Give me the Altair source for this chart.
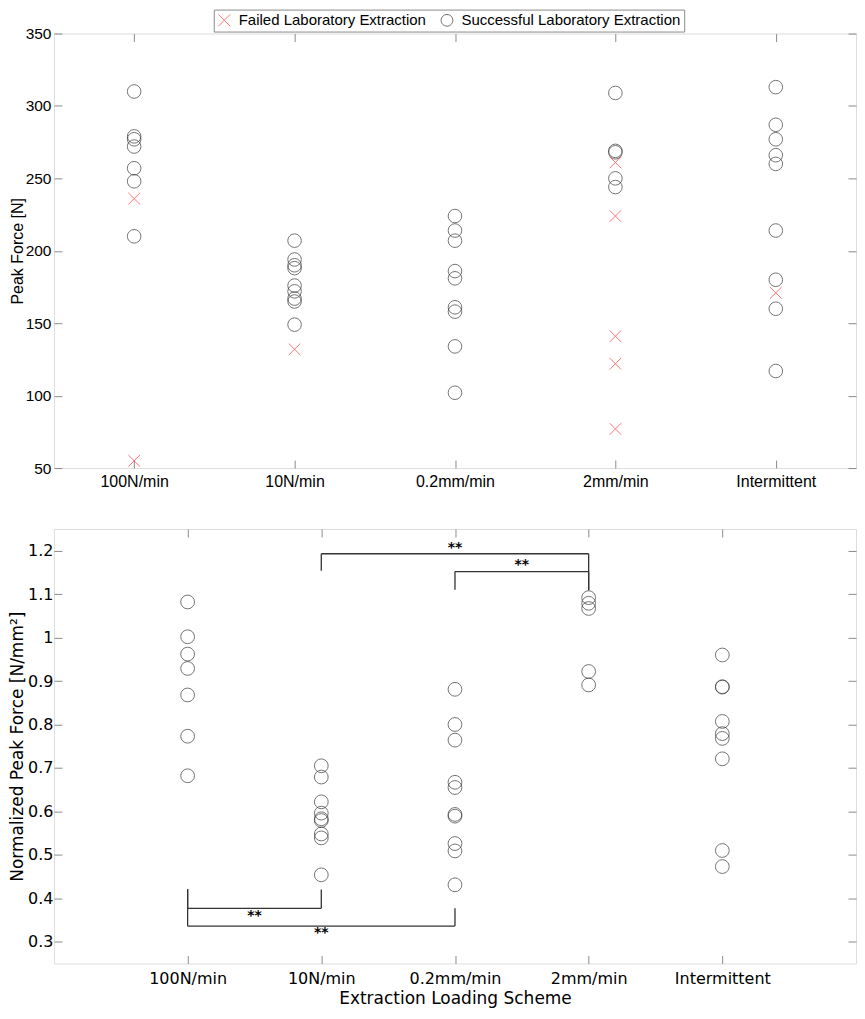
import json
import altair as alt
import pandas as pd

# ---------------- data ----------------
categories = ["100N/min", "10N/min", "0.2mm/min", "2mm/min", "Intermittent"]
status_names = ["Failed Laboratory Extraction", "Successful Laboratory Extraction"]

# Peak force [N], successful extractions (circles)
success_force = {
    "100N/min": [310, 279, 277, 272, 257, 248, 210],
    "10N/min": [207, 194, 190, 188, 176, 172, 167, 165, 149],
    "0.2mm/min": [224, 214, 207, 186, 181, 161, 158, 134, 102],
    "2mm/min": [309, 269, 268, 250, 244],
    "Intermittent": [313, 287, 277, 266, 260, 214, 180, 160, 117],
}
# Peak force [N], failed extractions (crosses)
failed_force = {
    "100N/min": [236, 55],
    "10N/min": [132],
    "0.2mm/min": [],
    "2mm/min": [261, 224, 141, 122, 77],
    "Intermittent": [171],
}
# Normalized peak force [N/mm^2]
normalized_force = {
    "100N/min": [1.082, 1.002, 0.962, 0.929, 0.868, 0.773, 0.682],
    "10N/min": [0.705, 0.679, 0.622, 0.596, 0.583, 0.579, 0.548, 0.539, 0.454],
    "0.2mm/min": [0.881, 0.800, 0.764, 0.667, 0.655, 0.593, 0.589, 0.526, 0.509, 0.431],
    "2mm/min": [1.092, 1.079, 1.067, 0.922, 0.891],
    "Intermittent": [0.960, 0.887, 0.886, 0.807, 0.779, 0.768, 0.721, 0.510, 0.473],
}

# significance brackets (bottom panel)
bracket_left = ["10N/min", "0.2mm/min", "100N/min", "100N/min"]
bracket_right = ["2mm/min", "2mm/min", "10N/min", "0.2mm/min"]
bracket_bar = [1.193, 1.152, 0.377, 0.336]
bracket_left_end = [1.154, 1.110, 0.421, 0.421]
bracket_right_end = [1.109, 1.109, 0.420, 0.377]
bracket_text = ["**", "**", "**", "**"]
bracket_text_y = [1.207, 1.166, 0.360, 0.320]

top_y_ticks = [50, 100, 150, 200, 250, 300, 350]
bottom_y_ticks = [0.3, 0.4, 0.5, 0.6, 0.7, 0.8, 0.9, 1.0, 1.1, 1.2]

# ---------------- tables ----------------
idx = {c: i + 1 for i, c in enumerate(categories)}

df_succ = pd.DataFrame(
    [{"idx": idx[c], "force": v, "status": status_names[1]} for c in categories for v in success_force[c]]
)
df_fail = pd.DataFrame(
    [{"idx": idx[c], "force": v, "status": status_names[0]} for c in categories for v in failed_force[c]]
)
df_norm = pd.DataFrame(
    [{"idx": idx[c], "value": v} for c in categories for v in normalized_force[c]]
)

seg_rows = []
txt_rows = []
for L, R, bar, le, re_, t, ty in zip(bracket_left, bracket_right, bracket_bar,
                                     bracket_left_end, bracket_right_end,
                                     bracket_text, bracket_text_y):
    xl, xr = idx[L], idx[R]
    seg_rows.append({"x": xl, "x2": xr, "y": bar, "y2": bar})
    seg_rows.append({"x": xl, "x2": xl, "y": bar, "y2": le})
    seg_rows.append({"x": xr, "x2": xr, "y": bar, "y2": re_})
    txt_rows.append({"x": (xl + xr) / 2, "y": ty, "label": t})
df_seg = pd.DataFrame(seg_rows)
df_txt = pd.DataFrame(txt_rows)

# ---------------- styling ----------------
GRAY = "#8c8c8c"
DARK = "#3a3a3a"
RED = "#ff3b3b"
XPATH = "M-1,-1L1,1M-1,1L1,-1"
ARIAL = "Liberation Sans"
VERD = "DejaVu Sans"
W = 803
H = 435

label_expr = "[" + ",".join(json.dumps(c) for c in categories) + "][datum.value - 1]"
cat_vals = [idx[c] for c in categories]


def ticks_only(orient, values):
    return alt.Axis(orient=orient, values=values, labels=False, domain=False, offset=-8,
                    tickSize=8, tickColor=GRAY, tickWidth=1, grid=False, title=None)


# ---------------- top panel ----------------
xs_top = alt.Scale(domain=[0.5, 5.5], nice=False, zero=False)
ys_top = alt.Scale(domain=[50, 350], nice=False, zero=False)
shape_scale = alt.Scale(domain=status_names, range=[XPATH, "circle"])
color_scale = alt.Scale(domain=status_names, range=[RED, DARK])

legend = alt.Legend(orient="none", legendX=160, legendY=-24, direction="horizontal", title=None,
                    strokeColor=GRAY, fillColor="white", padding=3, labelFont=ARIAL,
                    labelFontSize=15, labelColor="black", labelLimit=400, symbolSize=140,
                    symbolStrokeWidth=1, columnPadding=12, labelOffset=7)

axis_top_bottom = alt.Axis(orient="bottom", values=cat_vals, labelExpr=label_expr, domain=False,
                           offset=-8, tickSize=8, tickColor=GRAY, tickWidth=1, labelPadding=5,
                           labelFont=ARIAL, labelFontSize=16, labelColor="black", labelAngle=0,
                           grid=False, title=None)
axis_top_left = alt.Axis(orient="left", values=top_y_ticks, domain=False, offset=-8, tickSize=8,
                         tickColor=GRAY, tickWidth=1, labelPadding=3, labelFont=ARIAL,
                         labelFontSize=15.5, labelColor="black", grid=False, title="Peak Force [N]",
                         titleFont=ARIAL, titleFontSize=16, titleFontWeight="normal",
                         titleColor="black", titlePadding=0)

circles_top = alt.Chart(df_succ).mark_point(filled=False, size=185, strokeWidth=1).encode(
    x=alt.X("idx:Q", scale=xs_top, axis=axis_top_bottom),
    y=alt.Y("force:Q", scale=ys_top, axis=axis_top_left),
    shape=alt.Shape("status:N", scale=shape_scale, legend=legend),
    color=alt.Color("status:N", scale=color_scale, legend=legend),
)
crosses_top = alt.Chart(df_fail).mark_point(filled=False, size=135, strokeWidth=1).encode(
    x=alt.X("idx:Q", scale=xs_top, axis=ticks_only("top", cat_vals)),
    y=alt.Y("force:Q", scale=ys_top, axis=ticks_only("right", top_y_ticks)),
    shape=alt.Shape("status:N", scale=shape_scale, legend=legend),
    color=alt.Color("status:N", scale=color_scale, legend=legend),
)
top = alt.layer(circles_top, crosses_top).resolve_axis(x="independent", y="independent").properties(
    width=W, height=H
)

# ---------------- bottom panel ----------------
xs_bot = alt.Scale(domain=[0, 6], nice=False, zero=False)
ys_bot = alt.Scale(domain=[0.25, 1.25], nice=False, zero=False)

axis_bot_bottom = alt.Axis(orient="bottom", values=cat_vals, labelExpr=label_expr, domain=False,
                           offset=-8, tickSize=8, tickColor=GRAY, tickWidth=1, labelPadding=7,
                           labelFont=VERD, labelFontSize=16, labelColor="black", labelAngle=0,
                           grid=False, title="Extraction Loading Scheme", titleFont=VERD,
                           titleFontSize=17, titleFontWeight="normal", titleColor="black",
                           titlePadding=4)
axis_bot_left = alt.Axis(orient="left", values=bottom_y_ticks, format=".1~f", domain=False,
                         offset=-8, tickSize=8, tickColor=GRAY, tickWidth=1, labelPadding=1,
                         labelFont=VERD, labelFontSize=16, labelColor="black", grid=False,
                         title="Normalized Peak Force [N/mm²]", titleFont=VERD, titleFontSize=17,
                         titleFontWeight="normal", titleColor="black", titlePadding=1)

circles_bot = alt.Chart(df_norm).mark_point(filled=False, size=190, strokeWidth=1, color=DARK).encode(
    x=alt.X("idx:Q", scale=xs_bot, axis=axis_bot_bottom),
    y=alt.Y("value:Q", scale=ys_bot, axis=axis_bot_left),
)
brackets = alt.Chart(df_seg).mark_rule(color="#333333", strokeWidth=1.3).encode(
    x=alt.X("x:Q", scale=xs_bot, axis=ticks_only("top", cat_vals)),
    x2="x2:Q",
    y=alt.Y("y:Q", scale=ys_bot, axis=ticks_only("right", bottom_y_ticks)),
    y2="y2:Q",
)
stars = alt.Chart(df_txt).mark_text(font=VERD, fontSize=14, fontWeight="bold", color="black",
                                    align="center", baseline="middle").encode(
    x=alt.X("x:Q", scale=xs_bot, axis=None),
    y=alt.Y("y:Q", scale=ys_bot, axis=None),
    text="label:N",
)
bottom = alt.layer(circles_bot, brackets, stars).resolve_axis(
    x="independent", y="independent"
).properties(width=W, height=H)

chart = alt.vconcat(top, bottom, spacing=38).properties(
    padding={"left": 0, "top": 0, "right": 0, "bottom": 0}
).configure_view(stroke=GRAY, strokeWidth=1).configure(background="white")

chart.save("out.html", embed_options={"renderer": "svg", "actions": False})
